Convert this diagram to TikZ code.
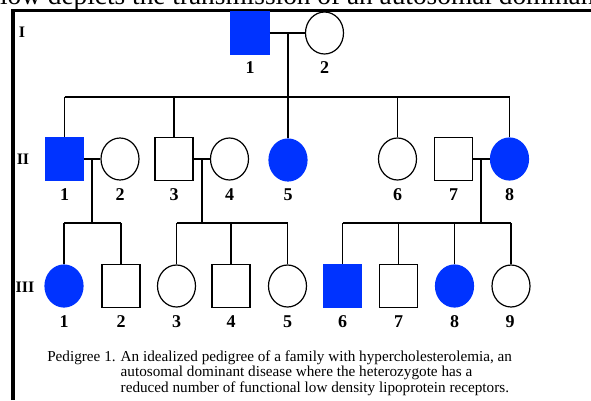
\documentclass[tikz,border=0pt]{standalone}
\usepackage{fontspec}
\setmainfont{Liberation Serif}
\usetikzlibrary{shapes.geometric}
\definecolor{affblue}{RGB}{0,51,255}

\begin{document}
\begin{tikzpicture}[
  x=0.75pt, y=-0.75pt,
  male/.style={rectangle, draw=black, line width=0.9pt, minimum width=28.5pt,
               minimum height=32pt, inner sep=0pt},
  female/.style={ellipse, draw=black, line width=0.9pt, minimum width=28.5pt,
                 minimum height=31.5pt, inner sep=0pt},
  aff/.style={draw=affblue, fill=affblue},
  num/.style={font=\bfseries\fontsize{13.5}{15}\selectfont, inner sep=0pt},
  gen/.style={font=\bfseries\fontsize{12}{14}\selectfont, inner sep=0pt},
  line/.style={draw=black, line width=1.1pt}
]
\useasboundingbox (0,0) rectangle (591,400);
\clip (0,0) rectangle (591,400);

% text cut off at the top, and the frame
\node[anchor=base west, inner sep=0pt, font=\fontsize{20.5}{22}\selectfont] (head)
  at (-26,4.5) {below depicts the transmission of an autosomal dominant};
\draw[line width=2.4pt] (13,400) -- (13,10.5) -- (591,10.5);

% generations
\node[gen] (g1) at (22,32)  {I};
\node[gen] (g2) at (23,159) {II};
\node[gen] (g3) at (25,287) {III};

% generation I
\node[male, aff] (i1) at (250,33) {};
\node[female]    (i2) at (324.5,33) {};
\node[num] (n-i1) at (250,68) {1};
\node[num] (n-i2) at (324.5,68) {2};

% generation II
\node[male, aff]   (ii1) at (64.5,159) {};
\node[female]      (ii2) at (120,159) {};
\node[male]        (ii3) at (174,159) {};
\node[female]      (ii4) at (229.5,159) {};
\node[female, aff] (ii5) at (288,160) {};
\node[female]      (ii6) at (397.5,159) {};
\node[male]        (ii7) at (453.5,159) {};
\node[female, aff] (ii8) at (509.5,159) {};
\foreach \n/\x in {1/64.5,2/120,3/174,4/229.5,5/288,6/397.5,7/453.5,8/509.5}
  \node[num] (n-ii\n) at (\x,195) {\n};

% generation III
\node[female, aff] (iii1) at (64,286) {};
\node[male]        (iii2) at (121,286) {};
\node[female]      (iii3) at (176.5,286) {};
\node[male]        (iii4) at (231,286) {};
\node[female]      (iii5) at (287.5,286) {};
\node[male, aff]   (iii6) at (342.5,286) {};
\node[male]        (iii7) at (398.5,286) {};
\node[female, aff] (iii8) at (454.5,286) {};
\node[female]      (iii9) at (511,286) {};
\foreach \n/\x in {1/64,2/121,3/176.5,4/231,5/287.5,6/342.5,7/398.5,8/454.5,9/510}
  \node[num] (n-iii\n) at (\x,322) {\n};

% I-1 x I-2
\coordinate (m-i) at (288,33);
\coordinate (s-i) at (288,97);
\draw[line] (i1.east) -- (i2.west);
\draw[line] (m-i) -- (s-i);
\draw[line] (ii1.north |- s-i) -- (ii8.north |- s-i);
\foreach \c in {ii1,ii3,ii5,ii6,ii8}
  \draw[line] (\c.north |- s-i) -- (\c.north);

% II-1 x II-2
\coordinate (m-a) at (92,159);
\coordinate (s-a) at (92,223);
\draw[line] (ii1.east) -- (ii2.west);
\draw[line] (m-a) -- (s-a);
\draw[line] (iii1.north |- s-a) -- (iii2.north |- s-a);
\foreach \c in {iii1,iii2}
  \draw[line] (\c.north |- s-a) -- (\c.north);

% II-3 x II-4
\coordinate (m-b) at (202,159);
\coordinate (s-b) at (202,223);
\draw[line] (ii3.east) -- (ii4.west);
\draw[line] (m-b) -- (s-b);
\draw[line] (iii3.north |- s-b) -- (iii5.north |- s-b);
\foreach \c in {iii3,iii4,iii5}
  \draw[line] (\c.north |- s-b) -- (\c.north);

% II-7 x II-8
\coordinate (m-c) at (481,159);
\coordinate (s-c) at (481,223);
\draw[line] (ii7.east) -- (ii8.west);
\draw[line] (m-c) -- (s-c);
\draw[line] (iii6.north |- s-c) -- (iii9.north |- s-c);
\foreach \c in {iii6,iii7,iii8,iii9}
  \draw[line] (\c.north |- s-c) -- (\c.north);

% caption
\node[anchor=base west, inner sep=0pt, font=\fontsize{11.4}{11.6}\selectfont] (cap)
  at (47,361.5) {\begin{tabular}[t]{@{}l@{ }l@{}}
  Pedigree 1. & An idealized pedigree of a family with hypercholesterolemia, an\\
   & autosomal dominant disease where the heterozygote has a\\
   & reduced number of functional low density lipoprotein receptors.
  \end{tabular}};
\end{tikzpicture}
\end{document}
